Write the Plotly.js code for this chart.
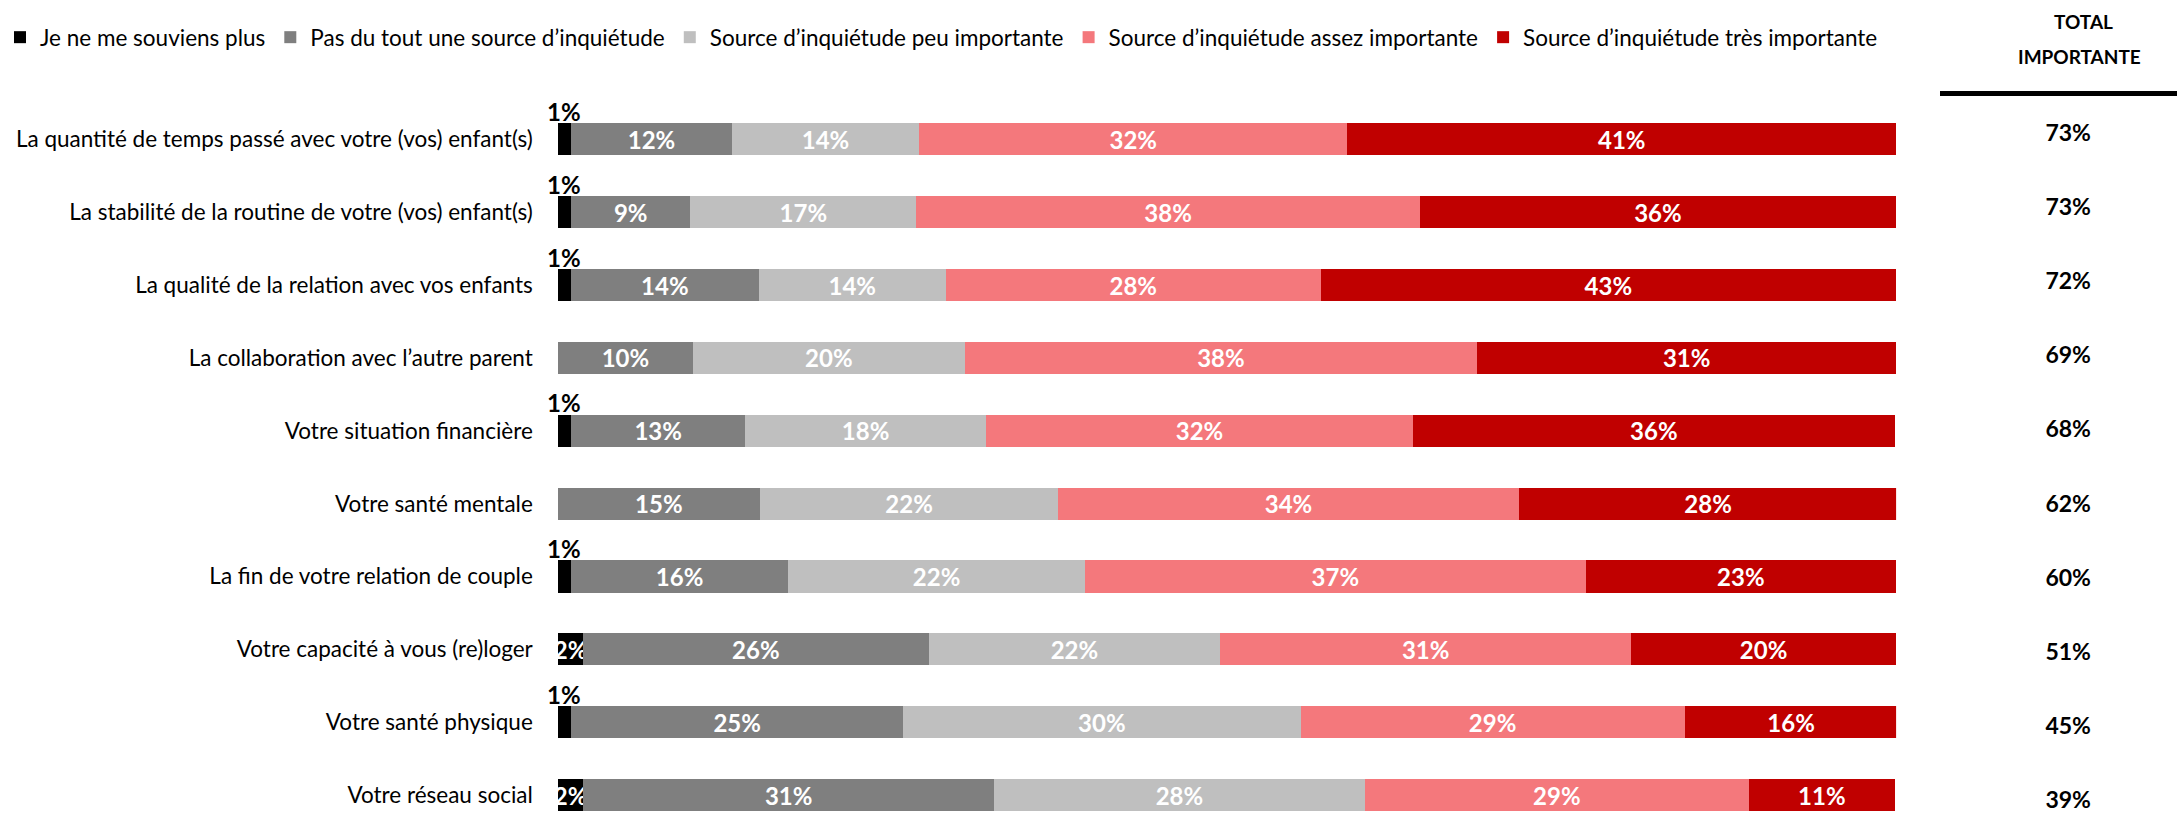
<!DOCTYPE html>
<html>
<head>
<meta charset="utf-8">
<script src="https://cdn.plot.ly/plotly-3.0.1.min.js"></script>
<style>
  html, body { margin: 0; padding: 0; background: #ffffff; }
  #chart { width: 2177px; height: 816px; }
</style>
</head>
<body>
<div id="chart"></div>
<script>
// ---- Data ----
const categories = [
  "La quantité de temps passé avec votre (vos) enfant(s)",
  "La stabilité de la routine de votre (vos) enfant(s)",
  "La qualité de la relation avec vos enfants",
  "La collaboration avec l’autre parent",
  "Votre situation financière",
  "Votre santé mentale",
  "La fin de votre relation de couple",
  "Votre capacité à vous (re)loger",
  "Votre santé physique",
  "Votre réseau social"
];
const seriesNames = [
  "Je ne me souviens plus",
  "Pas du tout une source d’inquiétude",
  "Source d’inquiétude peu importante",
  "Source d’inquiétude assez importante",
  "Source d’inquiétude très importante"
];
const jeNeMeSouviensPlus = [1.0, 1.0, 1.0, 0, 1.0, 0, 1.0, 1.9, 1.0, 1.9];
const pasDuTout          = [12.0, 8.9, 14.0, 10.1, 13.0, 15.1, 16.2, 25.8, 24.8, 30.7];
const peuImportante      = [14.0, 16.9, 14.0, 20.3, 18.0, 22.3, 22.2, 21.8, 29.7, 27.7];
const assezImportante    = [32.0, 37.6, 28.0, 38.3, 31.9, 34.4, 37.4, 30.7, 28.7, 28.7];
const tresImportante     = [41.0, 35.6, 43.0, 31.3, 36.0, 28.3, 23.2, 19.8, 15.9, 10.9];
const totalImportante    = [73, 73, 72, 69, 68, 62, 60, 51, 45, 39];
const totalHeader = ["TOTAL", "IMPORTANTE"];

// ---- Styles ----
const FONT = "Lato, 'Open Sans', sans-serif";
const colors = ["#000000", "#7F7F7F", "#BFBFBF", "#F4787C", "#C00000"];
const seriesValues = [jeNeMeSouviensPlus, pasDuTout, peuImportante, assezImportante, tresImportante];

const W = 2177, H = 816;
const plotTop = 102.5;           // px from top where plotting area begins
const plotH = H - plotTop;
const pY = px => (H - px) / plotH; // paper y from pixel y (margin b = 0)

const traces = seriesValues.map((vals, i) => {
  const t = {
    type: "bar",
    orientation: "h",
    name: seriesNames[i],
    x: vals,
    y: categories,
    xaxis: "x",
    yaxis: "y",
    marker: { color: colors[i], line: { width: 0 } },
    texttemplate: "%{x:.0f}%",
    textposition: "inside",
    insidetextanchor: "middle",
    textangle: 0,
    constraintext: "none",
    textfont: { family: FONT, size: 24, color: "#ffffff", weight: 700 },
    hoverinfo: "name+x"
  };
  if (i === 0) {
    // small segments: only labels of 2% or more sit inside the bar
    t.textposition = vals.map(v => (v >= 1.5 ? "inside" : "none"));
  }
  return t;
});

// Totals column
traces.push({
  type: "scatter",
  mode: "text",
  x: categories.map(() => 0),
  y: categories,
  text: totalImportante.map(v => v + "%"),
  textposition: "middle center",
  textfont: { family: FONT, size: 23, color: "#000000", weight: 700 },
  xaxis: "x2",
  yaxis: "y2",
  showlegend: false,
  hoverinfo: "skip",
  cliponaxis: false
});

// Labels for tiny black segments (shown above the bar)
const annotations = [];
jeNeMeSouviensPlus.forEach((v, i) => {
  if (v > 0 && v < 1.5) {
    annotations.push({
      x: v / 2, y: categories[i], xref: "x", yref: "y",
      text: Math.round(v) + "%",
      showarrow: false,
      yshift: 28,
      font: { family: FONT, size: 24, color: "#000000", weight: 700 }
    });
  }
});
// Header of totals column
annotations.push({
  x: 0.957, y: pY(21), xref: "paper", yref: "paper",
  text: "<b>" + totalHeader[0] + "</b>", showarrow: false,
  xanchor: "center", yanchor: "middle",
  font: { family: FONT, size: 19, color: "#000000" }
});
annotations.push({
  x: 0.955, y: pY(56), xref: "paper", yref: "paper",
  text: "<b>" + totalHeader[1] + "</b>", showarrow: false,
  xanchor: "center", yanchor: "middle",
  font: { family: FONT, size: 19, color: "#000000" }
});

const layout = {
  width: W,
  height: H,
  margin: { l: 0, r: 0, t: plotTop, b: 0, pad: 0, autoexpand: false },
  paper_bgcolor: "#ffffff",
  plot_bgcolor: "#ffffff",
  barmode: "stack",
  bargap: 0.56,
  font: { family: FONT, color: "#000000" },
  showlegend: true,
  legend: {
    orientation: "h",
    traceorder: "normal",
    x: 0.0, xanchor: "left",
    y: pY(37), yanchor: "middle",
    font: { family: FONT, size: 22.5, color: "#000000" },
    itemwidth: 30,
    bgcolor: "rgba(0,0,0,0)"
  },
  xaxis: {
    domain: [557.8 / W, 1896.1 / W],
    range: [0, 100],
    showgrid: false, zeroline: false, showline: false,
    showticklabels: false, ticks: "", fixedrange: true
  },
  yaxis: {
    type: "category",
    categoryorder: "array",
    categoryarray: categories,
    range: [9.288, -0.5],
    autorange: false,
    showgrid: false, zeroline: false, showline: false,
    ticks: "",
    ticklabelstandoff: 24,
    tickfont: { family: FONT, size: 22.5, color: "#000000" },
    fixedrange: true
  },
  xaxis2: {
    domain: [0.9, 1.0],
    anchor: "y2",
    range: [-1, 1],
    showgrid: false, zeroline: false, showline: false,
    showticklabels: false, ticks: "", fixedrange: true
  },
  yaxis2: {
    type: "category",
    categoryorder: "array",
    categoryarray: categories,
    anchor: "x2",
    range: [9.185, -0.433],
    autorange: false,
    showgrid: false, zeroline: false, showline: false,
    showticklabels: false, ticks: "", fixedrange: true
  },
  shapes: [{
    type: "line", xref: "paper", yref: "paper",
    x0: 1940 / W, x1: 1.0, y0: pY(93), y1: pY(93),
    line: { color: "#000000", width: 5 }
  }],
  annotations: annotations
};

Plotly.newPlot("chart", traces, layout, { displayModeBar: false, responsive: false });
</script>
</body>
</html>
